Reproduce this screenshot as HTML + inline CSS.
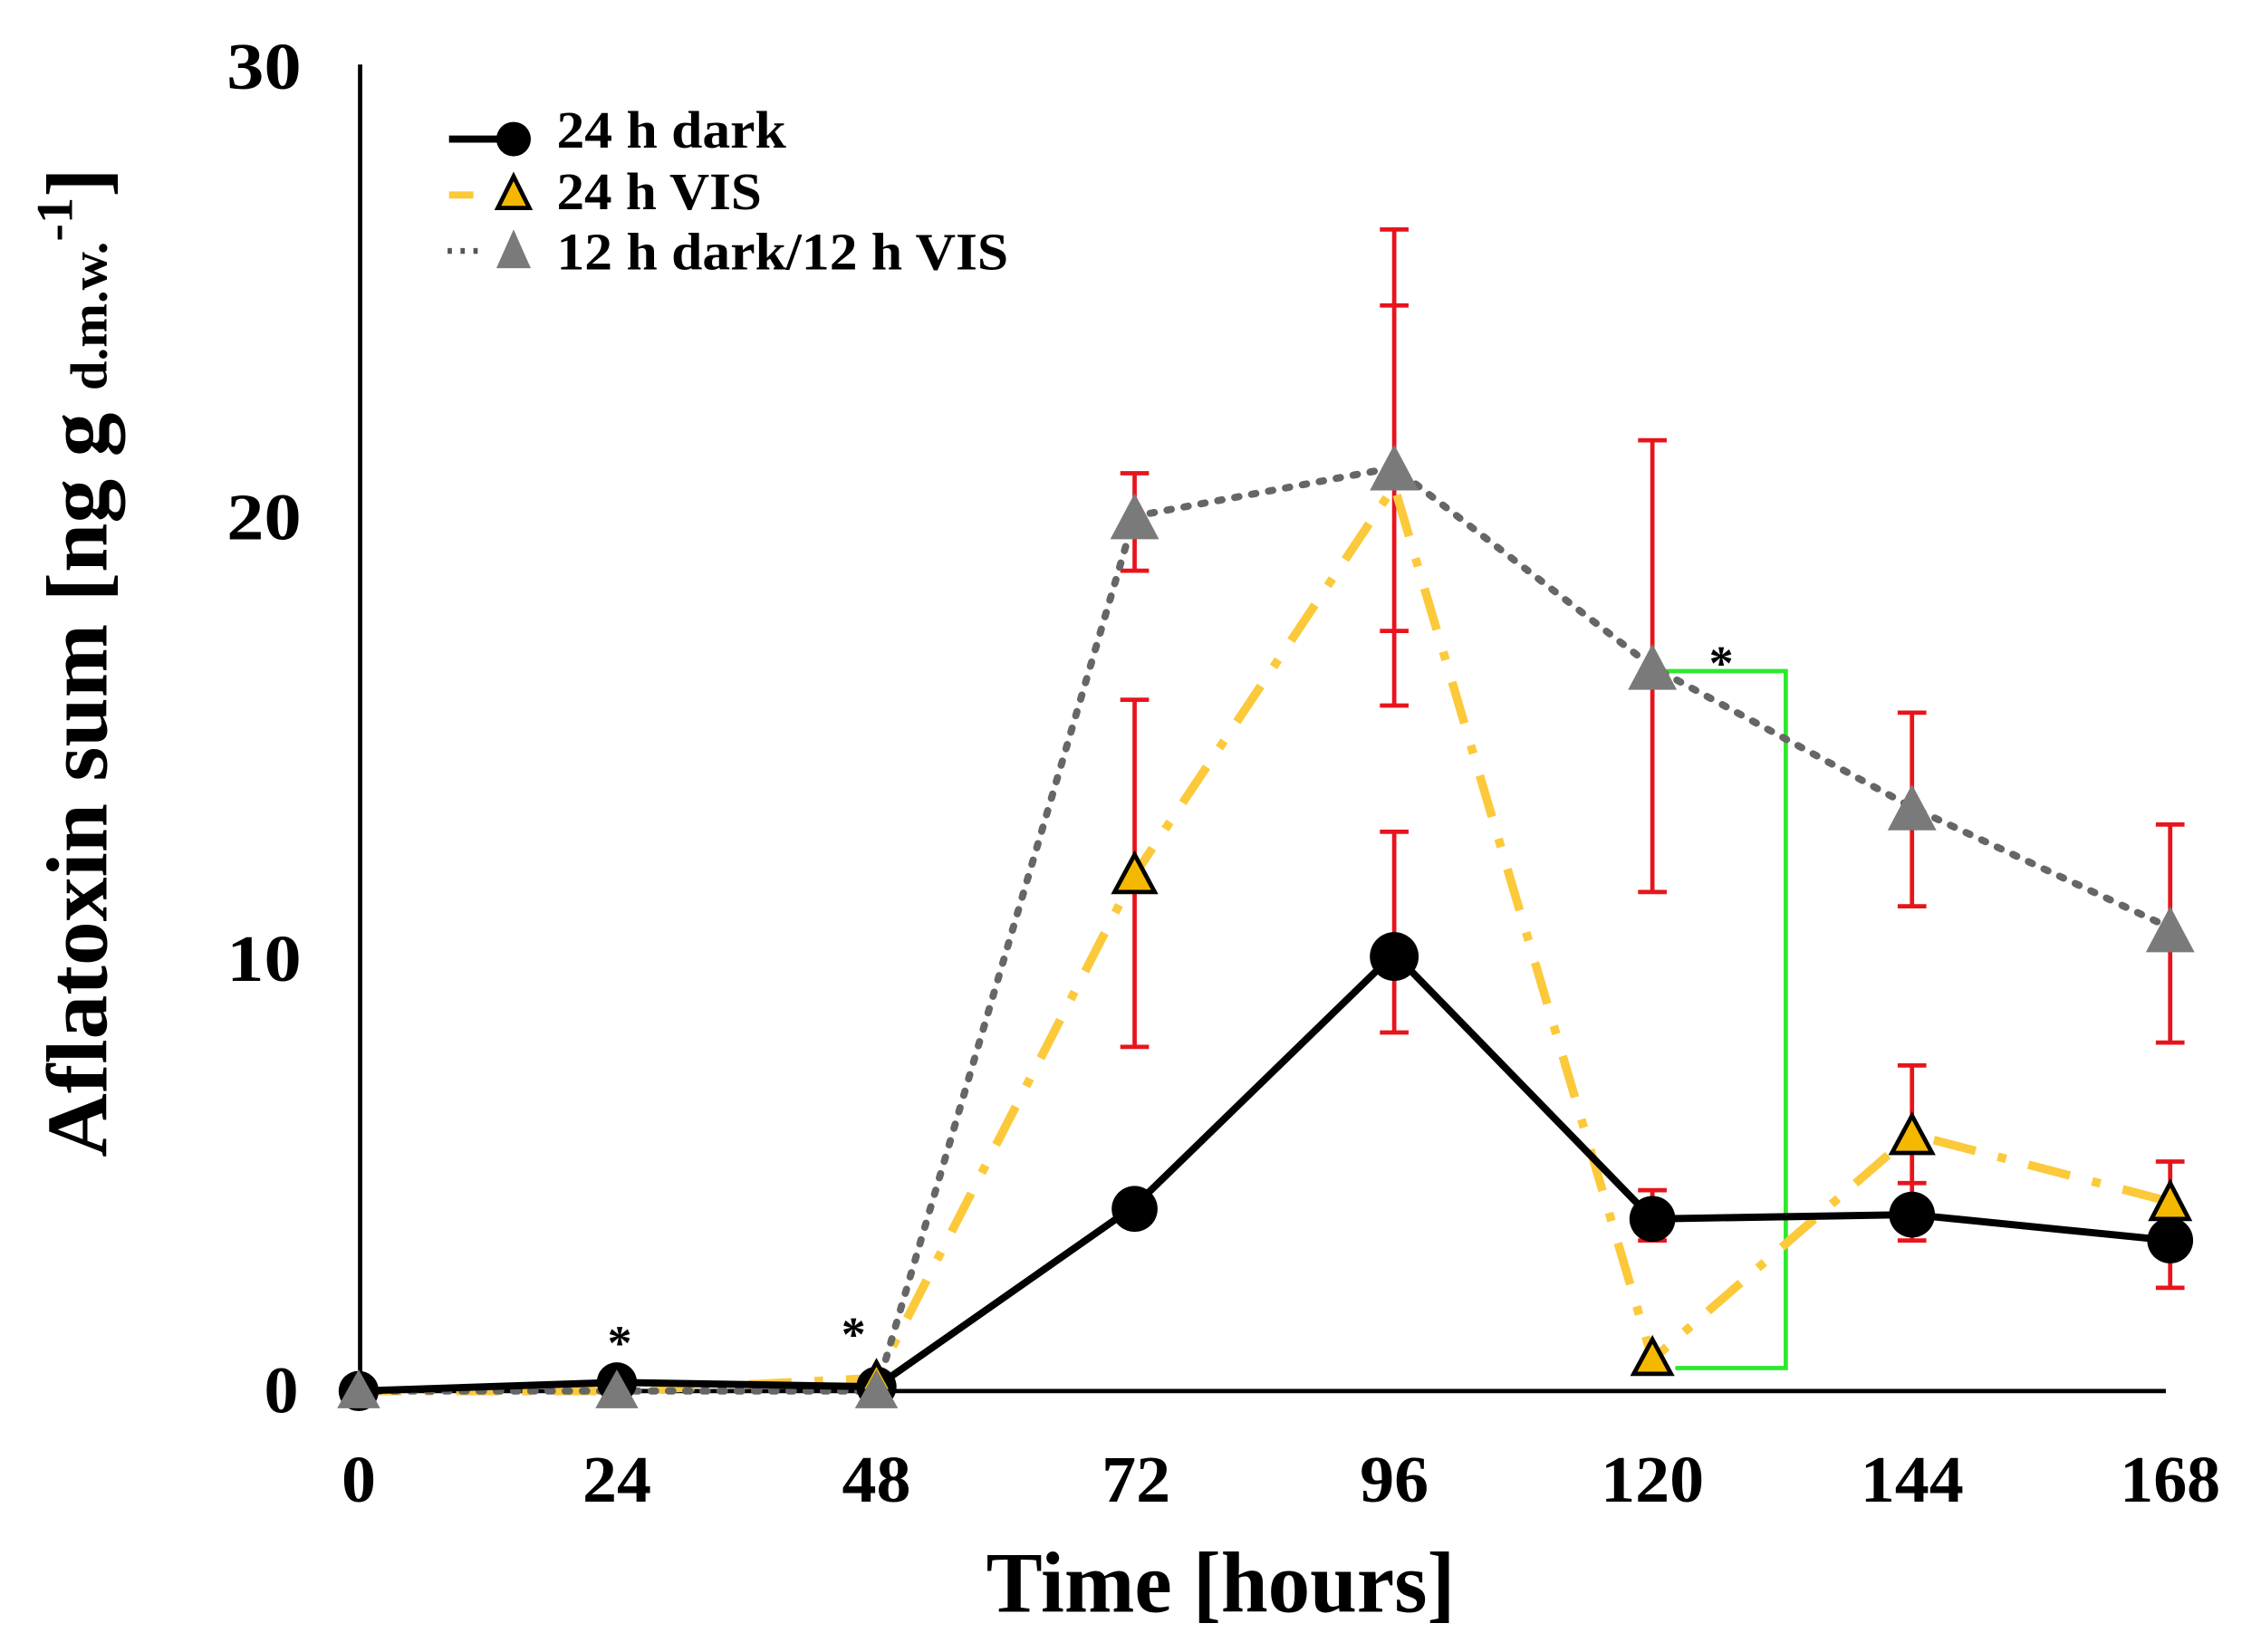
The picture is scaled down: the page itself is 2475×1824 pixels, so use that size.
<!DOCTYPE html>
<html><head><meta charset="utf-8"><style>html,body{margin:0;padding:0;background:#fff}svg{display:block}</style></head><body>
<svg width="2475" height="1824" viewBox="0 0 1563 1152" xmlns="http://www.w3.org/2000/svg" font-family="'Liberation Serif', serif" font-weight="bold">
<rect width="1563" height="1152" fill="#fff"/>
<!-- axes -->
<line x1="251" y1="45" x2="251" y2="970" stroke="#000" stroke-width="3"/>
<line x1="250" y1="970" x2="1510" y2="970" stroke="#000" stroke-width="3"/>
<g font-size="46" text-anchor="end">
<text x="210" y="62" textLength="52" lengthAdjust="spacingAndGlyphs">30</text><text x="210" y="376" textLength="52" lengthAdjust="spacingAndGlyphs">20</text><text x="210" y="684" textLength="52" lengthAdjust="spacingAndGlyphs">10</text><text x="208" y="985" textLength="24" lengthAdjust="spacingAndGlyphs">0</text>
</g>
<g font-size="46" text-anchor="middle">
<text x="250" y="1047" textLength="24" lengthAdjust="spacingAndGlyphs">0</text><text x="430" y="1047" textLength="48" lengthAdjust="spacingAndGlyphs">24</text><text x="611" y="1047" textLength="48" lengthAdjust="spacingAndGlyphs">48</text><text x="792" y="1047" textLength="48" lengthAdjust="spacingAndGlyphs">72</text><text x="972" y="1047" textLength="48" lengthAdjust="spacingAndGlyphs">96</text><text x="1152" y="1047" textLength="72" lengthAdjust="spacingAndGlyphs">120</text><text x="1333" y="1047" textLength="72" lengthAdjust="spacingAndGlyphs">144</text><text x="1513" y="1047" textLength="70" lengthAdjust="spacingAndGlyphs">168</text>
</g>
<text x="851" y="1124" font-size="60" text-anchor="middle" textLength="327" lengthAdjust="spacingAndGlyphs">Time [hours]</text>
<text transform="translate(74,462) rotate(-90)" font-size="60" text-anchor="middle" textLength="690" lengthAdjust="spacingAndGlyphs">Aflatoxin sum [ng g <tspan font-size="36">d.m.w.</tspan><tspan font-size="36" dy="-24">-1</tspan><tspan dy="24">]</tspan></text>
<!-- error bars -->
<g stroke="#e8141c" stroke-width="3" fill="none">
<path d="M791 330V398M781 330H801M781 398H801"/>
<path d="M791 488V730M781 488H801M781 730H801"/>
<path d="M972 160V492M962 160H982M962 213H982M962 440H982M962 492H982"/>
<path d="M972 580V720M962 580H982M962 720H982"/>
<path d="M1152 307V622M1142 307H1162M1142 622H1162"/>
<path d="M1152 830V865M1142 830H1162M1142 865H1162"/>
<path d="M1333 497V632M1323 497H1343M1323 632H1343"/>
<path d="M1333 743V865M1323 743H1343M1323 825H1343M1323 865H1343"/>
<path d="M1513 575V727M1503 575H1523M1503 727H1523"/>
<path d="M1513 810V898M1503 810H1523M1503 898H1523"/>
</g>
<!-- green bracket -->
<path d="M1160 468H1245V954H1168" stroke="#2ee82e" stroke-width="3" fill="none"/>
<!-- VIS line -->
<polyline points="250,970 430,970 611,961 791,610 972,339 1152,948 1333,791 1513,838" fill="none" stroke="#fcc93a" stroke-width="6" stroke-dasharray="30,16,6,16"/>
<!-- gray line -->
<polyline points="250,970 430,970 611,970 791,360 972,326 1152,465 1333,563 1513,647" fill="none" stroke="#666" stroke-width="5" stroke-dasharray="3,9" stroke-linecap="round"/>
<!-- dark line -->
<polyline points="250,970 430,964 611,967 791,841 972,665 1152,850 1333,847 1513,865" fill="none" stroke="#000" stroke-width="5"/>
<g fill="#000">
<circle cx="250" cy="970" r="14"/><circle cx="430" cy="964" r="14"/><circle cx="611" cy="967" r="14"/><circle cx="791" cy="843" r="16"/><circle cx="972" cy="667" r="17"/><circle cx="1152" cy="850" r="16"/><circle cx="1333" cy="847" r="16"/><circle cx="1513" cy="865" r="16"/>
</g>
<!-- VIS triangles -->
<g fill="#f5b800" stroke="#000" stroke-width="3">
<path d="M791 596L805 622H777Z"/><path d="M1152 934L1165 958H1139Z"/><path d="M1333 778L1347 804H1319Z"/><path d="M1513 825L1526 850H1500Z"/><path d="M611 950L622 970H600Z"/>
</g>
<!-- gray triangles -->
<g fill="#7a7a7a">
<path d="M250 955L265 982H235Z"/><path d="M430 955L445 982H415Z"/><path d="M611 955L626 982H596Z"/><path d="M791 344L808 376H774Z"/><path d="M972 310L989 342H955Z"/><path d="M1152 449L1169 481H1135Z"/><path d="M1333 547L1350 579H1316Z"/><path d="M1513 632L1530 664H1496Z"/>
</g>
<g font-size="34" text-anchor="middle">
<text x="432" y="948">*</text><text x="595" y="942">*</text><text x="1200" y="474">*</text>
</g>
<!-- legend -->
<line x1="313" y1="97" x2="355" y2="97" stroke="#000" stroke-width="5"/>
<circle cx="358" cy="97" r="12" fill="#000"/>
<line x1="313" y1="136" x2="330" y2="136" stroke="#fcc93a" stroke-width="5"/>
<path d="M358 123L369 145H347Z" fill="#f5b800" stroke="#000" stroke-width="3"/>
<path d="M312 175h3M321 175h3M330 175h3" stroke="#555" stroke-width="4"/>
<path d="M358 160L370 187H346Z" fill="#7a7a7a"/>
<g font-size="37">
<text x="388" y="103" textLength="160" lengthAdjust="spacingAndGlyphs">24 h dark</text>
<text x="388" y="146" textLength="143" lengthAdjust="spacingAndGlyphs">24 h VIS</text>
<text x="388" y="188" textLength="315" lengthAdjust="spacingAndGlyphs">12 h dark/12 h VIS</text>
</g>
</svg>
</body></html>
